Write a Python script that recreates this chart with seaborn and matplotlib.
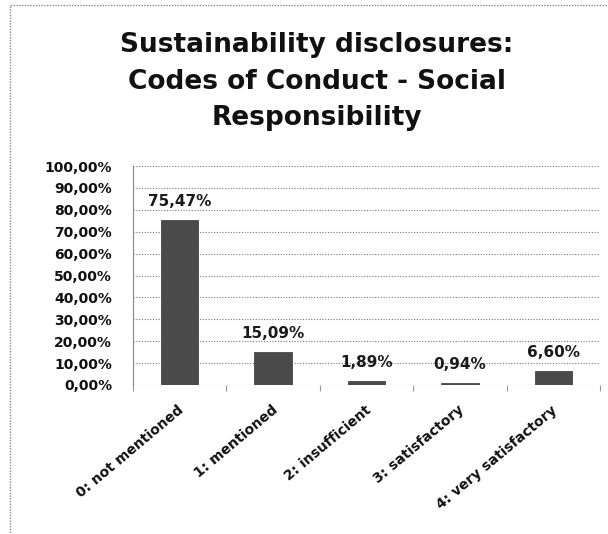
import matplotlib
matplotlib.use("Agg")
import matplotlib.pyplot as plt
import seaborn as sns
import pandas as pd
from matplotlib.patches import Rectangle
from matplotlib.ticker import FixedLocator, FuncFormatter
import matplotlib.transforms as mtransforms

categories = ["0: not mentioned", "1: mentioned", "2: insufficient", "3: satisfactory", "4: very satisfactory"]
values = [75.47, 15.09, 1.89, 0.94, 6.60]
title_lines = ["Sustainability disclosures:", "Codes of Conduct - Social", "Responsibility"]

sns.set_theme(style="white")
plt.rcParams["font.family"] = ["DejaVu Sans"]

df = pd.DataFrame({"category": categories, "value": values})

W, H = 608, 534
fig = plt.figure(figsize=(W / 100, H / 100), dpi=100)
ax = fig.add_axes([133 / W, 1 - 385 / H, (600 - 133) / W, (385 - 166) / H])

sns.barplot(data=df, x="category", y="value", color="#4a4a4a", saturation=1,
            width=0.4, ax=ax, edgecolor="#333333", linewidth=0.5)

ax.set_ylim(0, 100)
ax.set_xlim(-0.5, len(categories) - 0.5)
ax.yaxis.set_major_locator(FixedLocator([i * 10 for i in range(11)]))
ax.yaxis.set_major_formatter(FuncFormatter(lambda v, p: f"{v:.2f}".replace(".", ",") + "%"))
ax.grid(axis="y", color="#777777", linestyle=(0, (1, 1.5)), linewidth=0.8)
ax.set_axisbelow(True)
for s in ["top", "right", "bottom"]:
    ax.spines[s].set_visible(False)
ax.spines["left"].set_color("#888888")
ax.spines["left"].set_linestyle((0, (1, 1)))
ax.spines["left"].set_linewidth(0.8)
ax.set_xlabel("")
ax.set_ylabel("")
ax.tick_params(axis="y", length=0, labelsize=10, pad=15)
for t in ax.get_yticklabels():
    t.set_fontweight("bold")
    t.set_color("#111111")

ax.set_xticks(range(len(categories)))
ax.set_xticks([i - 0.5 for i in range(len(categories) + 1)], minor=True)
ax.tick_params(axis="x", which="major", length=0, labelsize=10, pad=13)
ax.tick_params(axis="x", which="minor", length=4, color="#999999", width=0.8, bottom=True)
offset = mtransforms.ScaledTranslation(-2 / 100, 0, fig.dpi_scale_trans)
ax.set_xticklabels(categories, rotation=40, ha="right", va="top", rotation_mode="anchor",
                   fontweight="bold", color="#111111")
for t in ax.get_xticklabels():
    t.set_transform(t.get_transform() + offset)

for i, v in enumerate(values):
    ax.annotate(f"{v:.2f}".replace(".", ",") + "%", (i, v), xytext=(0, 13),
                textcoords="offset points", ha="center", va="center",
                fontsize=11, fontweight="bold", color="#1a1a1a")

for line, yc in zip(title_lines, [45, 82, 118]):
    fig.text(317 / W, 1 - yc / H, line, ha="center", va="center",
             fontsize=19, fontweight="bold", color="#111111")

fig.patches.append(Rectangle((10 / W, -0.02), 1.0, 1 - 5 / H + 0.02, transform=fig.transFigure,
                             fill=False, edgecolor="#888888", linestyle=(0, (1, 1)), linewidth=1.0))

fig.savefig("out.png", dpi=100, facecolor="white")
